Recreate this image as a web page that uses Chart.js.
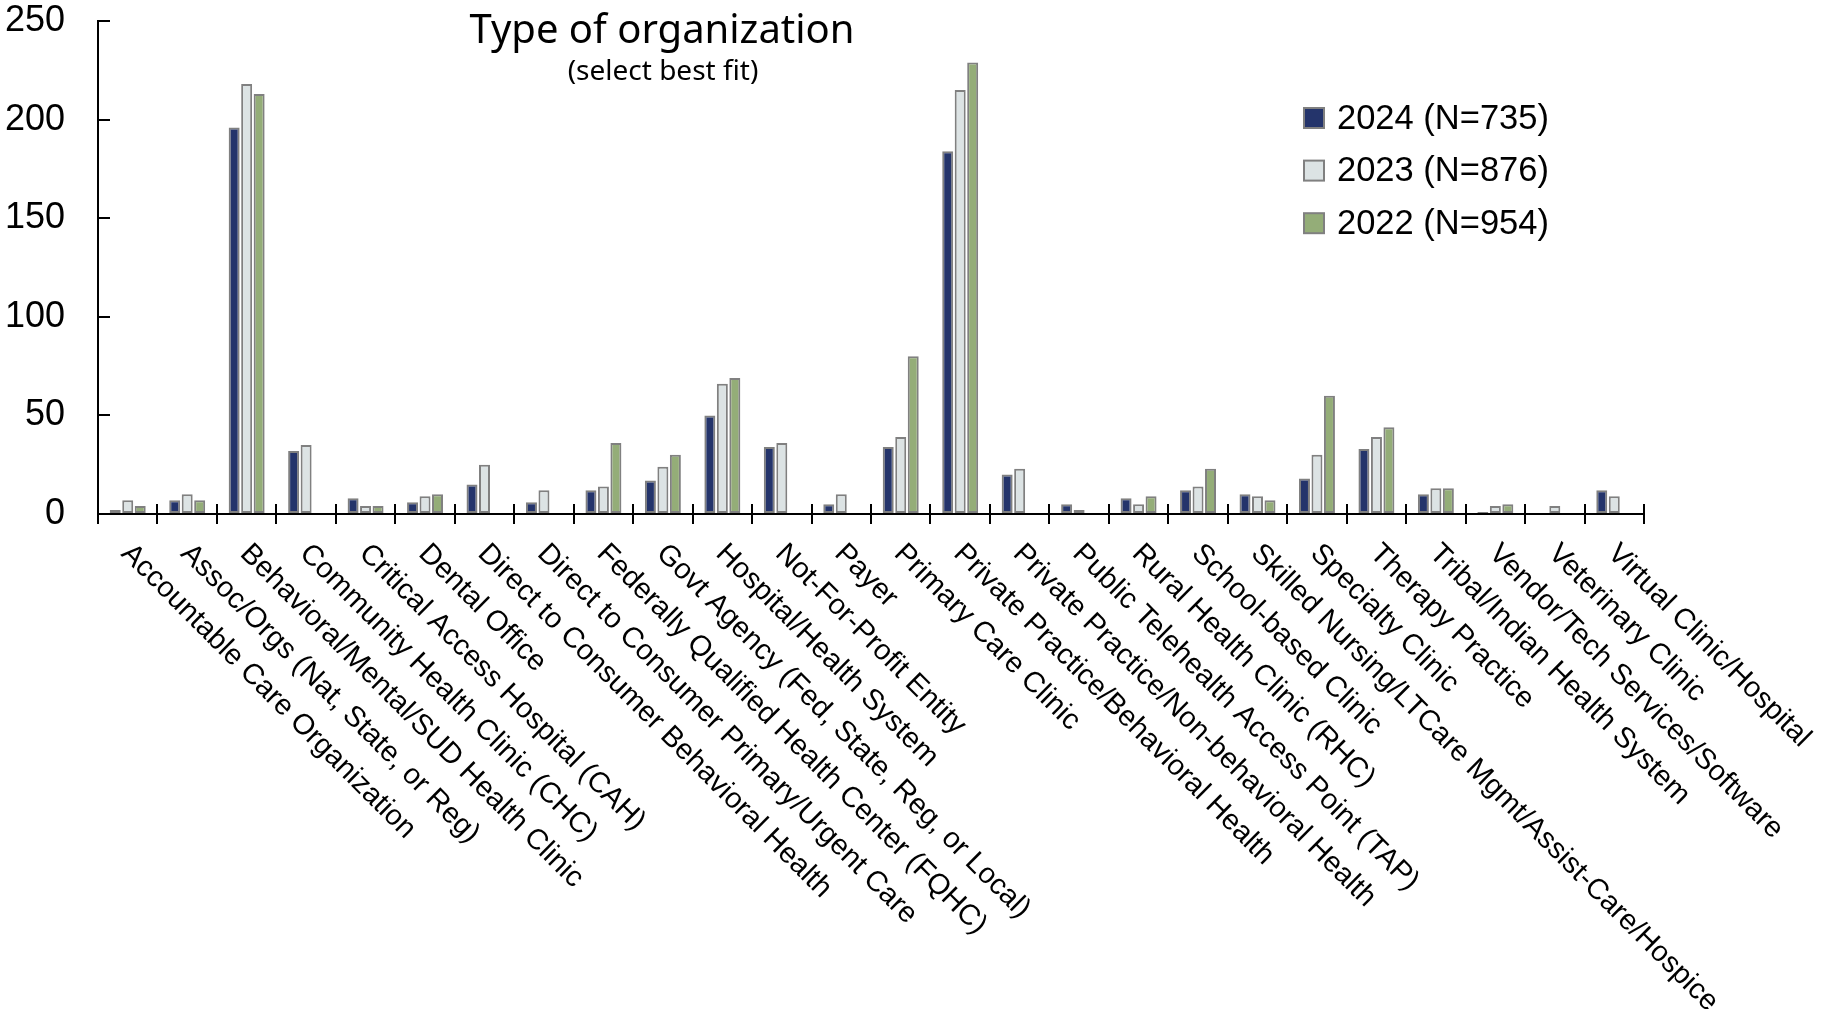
<!DOCTYPE html>
<html>
<head>
<meta charset="utf-8">
<script src="https://cdn.jsdelivr.net/npm/chart.js@4.4.1/dist/chart.umd.min.js"></script>
<style>
  body { margin: 0; background: #fff; }
  #wrap { width: 1823px; height: 1009px; position: relative; }
</style>
</head>
<body>
<div id="wrap"><canvas id="orgChart"></canvas></div>
<script>
var categories = [
    'Accountable Care Organization',
    'Assoc/Orgs (Nat, State, or Reg)',
    'Behavioral/Mental/SUD Health Clinic',
    'Community Health Clinic (CHC)',
    'Critical Access Hospital (CAH)',
    'Dental Office',
    'Direct to Consumer Behavioral Health',
    'Direct to Consumer Primary/Urgent Care',
    'Federally Qualified Health Center (FQHC)',
    'Govt Agency (Fed, State, Reg, or Local)',
    'Hospital/Health System',
    'Not-For-Profit Entity',
    'Payer',
    'Primary Care Clinic',
    'Private Practice/Behavioral Health',
    'Private Practice/Non-behavioral Health',
    'Public Telehealth Access Point (TAP)',
    'Rural Health Clinic (RHC)',
    'School-based Clinic',
    'Skilled Nursing/LTCare Mgmt/Assist-Care/Hospice',
    'Specialty Clinic',
    'Therapy Practice',
    'Tribal/Indian Health System',
    'Vendor/Tech Services/Software',
    'Veterinary Clinic',
    'Virtual Clinic/Hospital'
];

var counts2024 = [2, 7, 196, 32, 8, 6, 15, 6, 12, 17, 50, 34, 5, 34, 184, 20, 5, 8, 12, 10, 18, 33, 10, 1, null, 12];
var counts2023 = [7, 10, 218, 35, 4, 9, 25, 12, 14, 24, 66, 36, 10, 39, 215, 23, 2, 5, 14, 9, 30, 39, 13, 4, 4, 9];
var counts2022 = [4, 7, 213, null, 4, 10, null, null, 36, 30, 69, null, null, 80, 229, null, null, 9, 23, 7, 60, 44, 13, 5, null, null];

var seriesNames = ['2024 (N=735)', '2023 (N=876)', '2022 (N=954)'];
var seriesColors = ['#24346b', '#dce3e4', '#94ad78'];
var yTicks = [0, 50, 100, 150, 200, 250];

// rotated labels, crossing ticks, title and legend
var extras = {
    id: 'extras',
    afterDraw: function(chart) {
        var ctx = chart.ctx;
        var xs = chart.scales.x;
        ctx.save();

        // inner half of the x ticks
        ctx.strokeStyle = '#000';
        ctx.lineWidth = 2;
        for (var t = 0; t <= categories.length; t++) {
            var px = Math.round(xs.getPixelForValue(t - 0.5));
            ctx.beginPath();
            ctx.moveTo(px, xs.top);
            ctx.lineTo(px, xs.top - 10);
            ctx.stroke();
        }

        ctx.fillStyle = '#000';
        ctx.font = '29px "Liberation Sans", Arial, sans-serif';
        ctx.textAlign = 'left';
        ctx.textBaseline = 'middle';
        categories.forEach(function(label, i) {
            ctx.save();
            ctx.translate(xs.getPixelForValue(i) - 2, xs.top + 35);
            ctx.rotate(Math.PI / 4);
            ctx.fillText(label, 0, 0);
            ctx.restore();
        });

        ctx.textAlign = 'center';
        ctx.textBaseline = 'alphabetic';
        ctx.font = '40px "Noto Sans", sans-serif';
        ctx.fillText('Type of organization', 662, 43);
        ctx.font = '28px "Noto Sans", sans-serif';
        ctx.fillText('(select best fit)', 663, 80);

        ctx.textAlign = 'left';
        ctx.textBaseline = 'middle';
        ctx.font = '34.5px "Liberation Sans", Arial, sans-serif';
        chart.data.datasets.forEach(function(ds, i) {
            var cy = 118 + i * 52.6;
            ctx.fillStyle = ds.backgroundColor;
            ctx.fillRect(1304, cy - 10, 20, 20);
            ctx.strokeStyle = '#808080';
            ctx.lineWidth = 2;
            ctx.strokeRect(1304, cy - 10, 20, 20);
            ctx.fillStyle = '#000';
            ctx.fillText(ds.label, 1337, cy + 1);
        });
        ctx.restore();
    }
};

var series = [counts2024, counts2023, counts2022];

var ctx = document.getElementById('orgChart').getContext('2d');
var chart = new Chart(ctx, {
    type: 'bar',
    data: {
        labels: categories,
        datasets: series.map(function(values, i) {
            return {
                label: seriesNames[i],
                data: values,
                backgroundColor: seriesColors[i],
                borderColor: '#808080',
                borderWidth: 2,
                borderSkipped: false,
                categoryPercentage: 0.63,
                barPercentage: 0.88
            };
        })
    },
    plugins: [extras],
    options: {
        responsive: true,
        maintainAspectRatio: false,
        animation: false,
        layout: {
            padding: { top: 21, left: 0, right: 179, bottom: 485 }
        },
        plugins: {
            legend: { display: false },
            title: { display: false },
            tooltip: { enabled: false }
        },
        scales: {
            x: {
                grid: {
                    display: true,
                    offset: true,
                    drawOnChartArea: false,
                    color: '#000',
                    lineWidth: 2,
                    tickLength: 10
                },
                border: { color: '#000', width: 2 },
                ticks: { display: false }
            },
            y: {
                min: yTicks[0],
                max: yTicks[yTicks.length - 1],
                ticks: {
                    stepSize: yTicks[1] - yTicks[0],
                    color: '#000',
                    padding: 45,
                    font: { family: '"Liberation Sans", Arial, sans-serif', size: 36 }
                },
                grid: {
                    drawOnChartArea: false,
                    color: '#000',
                    lineWidth: 2,
                    tickLength: -12
                },
                border: { color: '#000', width: 2 },
                afterFit: function(scale) {
                    scale.width = 98;
                    scale.paddingTop = 0;
                    scale.paddingBottom = 0;
                }
            }
        }
    }
});
</script>
</body>
</html>
